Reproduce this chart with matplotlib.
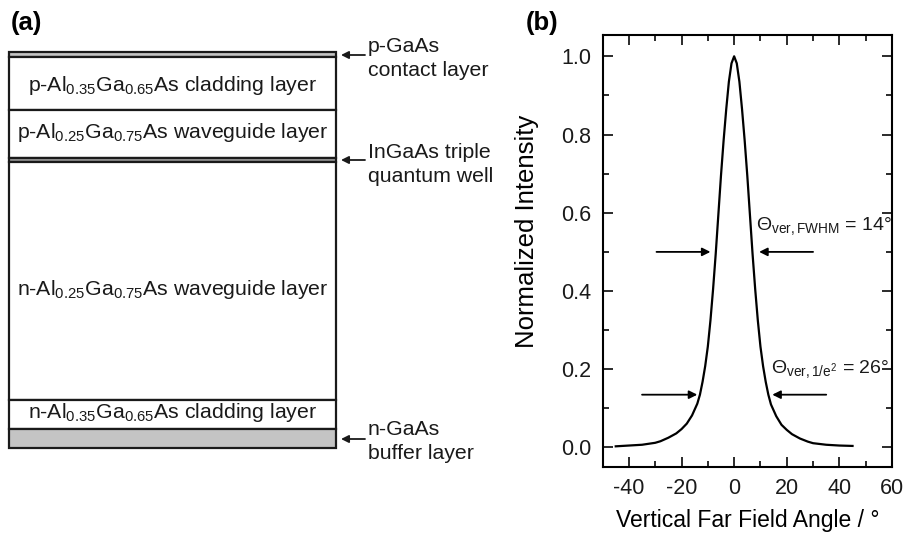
import matplotlib
matplotlib.use('Agg')
import matplotlib.pyplot as plt
from matplotlib.patches import Rectangle
from matplotlib.ticker import MultipleLocator, FormatStrFormatter

plt.rcParams['font.family'] = ['Liberation Sans', 'DejaVu Sans']
plt.rcParams['mathtext.fontset'] = 'custom'
plt.rcParams['mathtext.rm'] = 'Liberation Sans'
plt.rcParams['mathtext.it'] = 'Liberation Sans:italic'
plt.rcParams['axes.unicode_minus'] = False

# (a) layer stack, boundaries in figure pixel rows (top -> bottom)
layer_top = [52, 57, 110, 158, 162, 400, 429]
layer_bot = [57, 110, 158, 162, 400, 429, 448]
layer_fill = ['#c4c4c4', 'white', 'white', '#9a9a9a', 'white', 'white', '#c4c4c4']
layer_text = ['',
              r'p-Al$_{0.35}$Ga$_{0.65}$As cladding layer',
              r'p-Al$_{0.25}$Ga$_{0.75}$As waveguide layer',
              '',
              r'n-Al$_{0.25}$Ga$_{0.75}$As waveguide layer',
              r'n-Al$_{0.35}$Ga$_{0.65}$As cladding layer',
              '']
side_text = [('p-GaAs', 'contact layer'), ('InGaAs triple', 'quantum well'),
             ('n-GaAs', 'buffer layer')]

# (b) far field profile
angle = [-45, -40, -35, -30, -28, -25, -22, -20, -18, -16, -14, -13, -12, -11, -10,
         -9, -8, -7, -6, -5, -4, -3, -2, -1, 0, 1, 2, 3, 4, 5, 6, 7, 8, 9, 10,
         11, 12, 13, 14, 16, 18, 20, 22, 25, 28, 30, 35, 40, 45]
intensity = [0.003, 0.005, 0.007, 0.012, 0.016, 0.025, 0.036, 0.047, 0.061, 0.082, 0.112,
             0.135, 0.168, 0.208, 0.258, 0.325, 0.405, 0.495, 0.595, 0.695, 0.785,
             0.865, 0.935, 0.982, 1.0, 0.982, 0.935, 0.865, 0.785, 0.695, 0.595,
             0.495, 0.405, 0.325, 0.258, 0.208, 0.168, 0.135, 0.11, 0.08, 0.058,
             0.045, 0.034, 0.023, 0.015, 0.011, 0.007, 0.005, 0.004]

fig = plt.figure(figsize=(9.13, 5.35), dpi=100)

# panel (a) drawn in pixel coordinates
axa = fig.add_axes([0, 0, 1, 1])
axa.set_xlim(0, 913)
axa.set_ylim(535, 0)
axa.axis('off')
x0, x1 = 9, 336
label_base = [0, 91, 138, 0, 295, 418, 0]
for top, bot, fc, txt, yb in zip(layer_top, layer_bot, layer_fill, layer_text, label_base):
    axa.add_patch(Rectangle((x0, top), x1 - x0, bot - top, facecolor=fc,
                            edgecolor='#1a1a1a', linewidth=1.6))
    if txt:
        axa.text((x0 + x1) / 2, yb, txt, ha='center', va='baseline',
                 fontsize=15.3, color='#1a1a1a')
arrow_y = [55, 160, 439]
text_base = [52, 158, 435]
for y, yb, (l1, l2) in zip(arrow_y, text_base, side_text):
    axa.annotate('', xy=(341, y), xytext=(365, y),
                 arrowprops=dict(arrowstyle='-|>', color='#1a1a1a', lw=1.3,
                                 mutation_scale=11, shrinkA=0, shrinkB=0))
    axa.text(368, yb, l1, ha='left', va='baseline', fontsize=15.3, color='#1a1a1a')
    axa.text(368, yb + 24, l2, ha='left', va='baseline', fontsize=15.3, color='#1a1a1a')
axa.text(11, 23, '(a)', fontsize=18.5, fontweight='bold', ha='left', va='center')
axa.text(526, 23, '(b)', fontsize=18.5, fontweight='bold', ha='left', va='center')

# panel (b)
ax = fig.add_axes([0.660, 0.127, 0.317, 0.808])
ax.plot(angle, intensity, color='black', lw=1.6)
ax.set_xlim(-50, 60)
ax.set_ylim(-0.05, 1.055)
ax.xaxis.set_major_locator(MultipleLocator(20))
ax.xaxis.set_minor_locator(MultipleLocator(10))
ax.yaxis.set_major_locator(MultipleLocator(0.2))
ax.yaxis.set_minor_locator(MultipleLocator(0.1))
ax.yaxis.set_major_formatter(FormatStrFormatter('%.1f'))
ax.tick_params(which='both', direction='in', top=True, right=True, width=1.3,
               labelsize=15.5, colors='#1a1a1a')
ax.tick_params(which='major', length=7, pad=8)
ax.tick_params(which='minor', length=4)
for s in ax.spines.values():
    s.set_linewidth(1.5)
ax.set_xlabel('Vertical Far Field Angle / °', fontsize=16.5, labelpad=7)
ax.set_ylabel('Normalized Intensity', fontsize=18.5)
ax.yaxis.set_label_coords(-0.218, 0.546)

arrow = dict(arrowstyle='-|>', color='black', lw=1.3, mutation_scale=12,
             shrinkA=0, shrinkB=0)
ax.annotate('', xy=(-9, 0.5), xytext=(-29.5, 0.5), arrowprops=arrow)
ax.annotate('', xy=(9.5, 0.5), xytext=(30, 0.5), arrowprops=arrow)
ax.annotate('', xy=(-14, 0.135), xytext=(-35, 0.135), arrowprops=arrow)
ax.annotate('', xy=(14.5, 0.135), xytext=(35, 0.135), arrowprops=arrow)
ax.text(8.5, 0.555, r'$\mathit{\Theta}_{\mathrm{ver,FWHM}}$ = 14°', fontsize=14,
        ha='left', va='baseline', color='#1a1a1a')
ax.text(14, 0.19, r'$\mathit{\Theta}_{\mathrm{ver,1/e^2}}$ = 26°', fontsize=14,
        ha='left', va='baseline', color='#1a1a1a')

fig.savefig('out.png', dpi=100)
